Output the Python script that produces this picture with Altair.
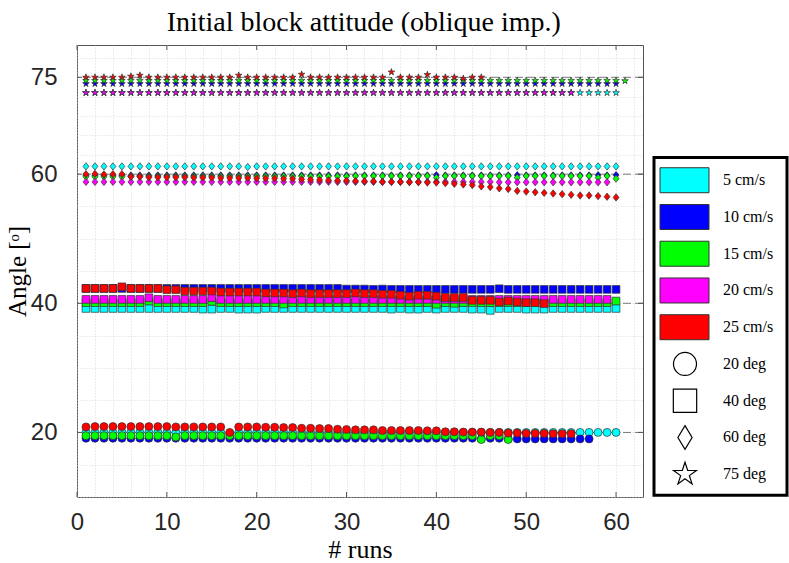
import altair as alt
import pandas as pd

TITLE = "Initial block attitude (oblique imp.)"
X_TITLE = "# runs"
Y_TITLE = "Angle [ᵒ]"

velocities = ["5 cm/s", "10 cm/s", "15 cm/s", "20 cm/s", "25 cm/s"]
vel_colors = ["#00FFFF", "#0000FF", "#00FF00", "#FF00FF", "#FF0000"]
angles = ["20 deg", "40 deg", "60 deg", "75 deg"]

x_tick_labels = [0, 10, 20, 30, 40, 50, 60]
y_tick_labels = [20, 40, 60, 75]
x_grid = [0, 2, 4, 6, 8, 10, 12, 14, 16, 18, 20, 22, 24, 26, 28, 30, 32, 34, 36, 38,
          40, 42, 44, 46, 48, 50, 52, 54, 56, 58, 60, 62]
y_grid = [10, 15, 20, 25, 30, 35, 40, 45, 50, 55, 60, 63, 66, 69, 72, 75, 78]

# ---- 20 deg (circles) ----
c20_cyan = [20.0, 20.0, 20.0, 20.0, 20.0, 20.0, 20.0, 20.0, 20.0, 19.95,
            20.0, 20.0, 20.0, 20.0, 20.0, 20.0, 19.9, 20.0, 20.0, 20.0,
            20.0, 20.0, 20.0, 20.0, 20.0, 20.0, 20.0, 20.0, 20.0, 20.0,
            20.0, 20.0, 20.0, 20.0, 20.0, 20.0, 20.0, 20.0, 20.0, 20.0,
            20.0, 20.0, 20.0, 20.0, 20.0, 20.0, 20.0, 20.0, 20.0, 20.0,
            20.0, 20.0, 20.0, 20.0, 20.0, 20.0, 20.0, 20.0, 20.0, 20.0]
c20_blue = [19.1, 19.1, 19.1, 19.1, 19.1, 19.1, 19.1, 19.1, 19.1, 19.1,
            19.1, 19.1, 19.1, 19.1, 19.1, 19.1, 19.1, 19.1, 19.1, 19.1,
            19.1, 19.1, 19.1, 19.1, 19.1, 19.1, 19.1, 19.1, 19.1, 19.1,
            19.1, 19.1, 19.1, 19.1, 19.1, 19.1, 19.1, 19.1, 19.1, 19.1,
            19.1, 19.1, 19.1, 19.1, 19.0, 19.1, 19.1, 19.0, 19.0, 19.0,
            19.0, 19.0, 19.0, 19.0, 19.0, 19.0, 19.0]
c20_green = [19.5, 19.5, 19.5, 19.5, 19.5, 19.5, 19.5, 19.5, 19.5, 19.5,
             19.3, 19.5, 19.5, 19.5, 19.5, 19.5, 19.5, 19.5, 19.5, 19.5,
             19.5, 19.5, 19.5, 19.5, 19.5, 19.5, 19.5, 19.5, 19.5, 19.5,
             19.5, 19.5, 19.5, 19.5, 19.5, 19.5, 19.5, 19.5, 19.5, 19.5,
             19.5, 19.5, 19.5, 19.5, 18.9, 19.5, 19.5, 18.9]
c20_red = [20.85, 20.9, 20.9, 20.9, 20.9, 20.9, 20.9, 20.9, 20.9, 20.9,
           20.85, 20.85, 20.85, 20.85, 20.85, 20.85, 20.0, 20.85, 20.85, 20.85,
           20.8, 20.8, 20.75, 20.75, 20.65, 20.65, 20.6, 20.6, 20.5, 20.45,
           20.4, 20.4, 20.4, 20.3, 20.3, 20.3, 20.3, 20.3, 20.25, 20.25,
           20.1, 20.1, 20.05, 20.05, 20.05, 20.0, 20.0, 19.9, 19.9, 19.85,
           19.85, 19.85, 19.8, 19.8, 19.8]

# ---- 40 deg (squares) ----
s40_cyan = [39.2, 39.2, 39.2, 39.2, 39.2, 39.2, 39.2, 39.2, 39.2, 39.2,
            39.2, 39.2, 39.2, 39.1, 39.1, 39.2, 39.2, 39.1, 39.1, 39.1,
            39.2, 39.2, 39.2, 39.2, 39.2, 39.2, 39.2, 39.2, 39.2, 39.2,
            39.2, 39.2, 39.2, 39.2, 39.1, 39.2, 39.1, 39.1, 39.2, 39.1,
            39.2, 39.2, 39.2, 39.1, 39.1, 38.9, 39.2, 39.2, 39.2, 39.1,
            39.1, 39.1, 39.2, 39.2, 39.2, 39.2, 39.2, 39.2, 39.2, 39.2]
s40_blue = [42.3, 42.3, 42.3, 42.3, 42.3, 42.3, 42.3, 42.3, 42.3, 42.3,
            42.3, 42.3, 42.3, 42.3, 42.3, 42.3, 42.3, 42.3, 42.3, 42.3,
            42.3, 42.3, 42.3, 42.3, 42.3, 42.3, 42.3, 42.3, 42.3, 42.2,
            42.2, 42.2, 42.15, 42.2, 42.15, 42.15, 42.15, 42.15, 42.15, 42.15,
            42.15, 42.15, 42.15, 42.15, 42.15, 42.15, 42.25, 42.15, 42.15, 42.15,
            42.15, 42.15, 42.15, 42.15, 42.15, 42.15, 42.15, 42.15, 42.15, 42.15]
s40_green = [40.1, 40.1, 40.1, 40.1, 40.1, 40.1, 40.1, 40.35, 40.1, 40.1,
             40.1, 40.1, 40.1, 40.1, 40.3, 40.1, 40.1, 40.1, 40.1, 40.1,
             40.1, 40.1, 39.9, 40.1, 40.1, 40.1, 40.1, 40.1, 40.1, 40.1,
             40.1, 40.1, 40.1, 40.1, 40.1, 40.1, 40.1, 40.1, 40.1, 39.85,
             40.1, 40.0, 40.1, 40.1, 40.1, 40.1, 40.1, 40.1, 40.1, 40.1,
             40.1, 40.1, 40.1, 40.1, 40.1, 40.1, 40.1, 40.1, 40.1, 40.35]
s40_magenta = [40.6, 40.6, 40.6, 40.6, 40.6, 40.6, 40.6, 40.85, 40.6, 40.6,
               40.6, 40.6, 40.6, 40.6, 40.85, 40.6, 40.6, 40.6, 40.6, 40.6,
               40.6, 40.6, 40.6, 40.6, 40.6, 40.6, 40.6, 40.6, 40.6, 40.6,
               40.6, 40.6, 40.6, 40.6, 40.6, 40.6, 40.6, 40.6, 40.6, 40.6,
               40.6, 40.6, 40.6, 40.6, 40.6, 40.6, 40.6, 40.6, 40.6, 40.6,
               40.6, 40.6, 40.6, 40.6, 40.6, 40.6, 40.6, 40.6, 40.6]
s40_red = [42.3, 42.3, 42.3, 42.3, 42.55, 42.3, 42.3, 42.3, 42.3, 42.1,
           42.1, 41.9, 41.9, 41.9, 41.9, 41.75, 41.75, 41.75, 41.75, 41.75,
           41.6, 41.6, 41.6, 41.5, 41.6, 41.5, 41.5, 41.5, 41.5, 41.5,
           41.6, 41.5, 41.5, 41.4, 41.4, 41.25, 41.1, 41.25, 41.25, 41.1,
           40.9, 40.9, 40.9, 40.45, 40.45, 40.45, 40.2, 40.35, 40.2, 40.1,
           40.1, 39.95]

# ---- 60 deg (diamonds) ----
d60_cyan = [61.2, 61.2, 61.2, 61.2, 61.2, 61.2, 61.2, 61.2, 61.2, 61.2,
            61.2, 61.2, 61.2, 61.2, 61.2, 61.2, 61.2, 61.2, 61.1, 61.2,
            61.2, 61.2, 61.2, 61.2, 61.2, 61.2, 61.2, 61.2, 61.2, 61.2,
            61.2, 61.2, 61.2, 61.2, 61.2, 61.2, 61.2, 61.2, 61.2, 61.2,
            61.2, 61.2, 61.2, 61.2, 61.2, 61.2, 61.2, 61.2, 61.2, 61.2,
            61.2, 61.2, 61.2, 61.2, 61.2, 61.2, 61.2, 61.2, 61.2, 61.2]
d60_blue = [59.8, 59.8, 59.8, 59.8, 59.8, 59.8, 59.8, 59.8, 59.8, 59.8,
            59.8, 59.8, 59.8, 59.8, 59.8, 59.8, 59.8, 59.8, 59.8, 59.8,
            59.8, 59.8, 59.8, 59.8, 59.8, 59.8, 59.8, 59.8, 59.8, 59.8,
            59.8, 59.8, 59.8, 59.8, 59.8, 59.8, 59.8, 59.8, 59.8, 59.85,
            59.8, 59.8, 59.8, 59.8, 59.8, 59.8, 59.8, 59.8, 59.85, 59.8,
            59.8, 59.8, 59.8, 59.8, 59.8, 59.8, 59.8, 59.85, 59.8, 59.85]
d60_green = [59.6, 59.6, 59.6, 59.6, 59.6, 59.65, 59.65, 59.65, 59.65, 59.65,
             59.65, 59.65, 59.65, 59.65, 59.65, 59.65, 59.65, 59.65, 59.65, 59.65,
             59.65, 59.65, 59.65, 59.65, 59.65, 59.65, 59.65, 59.65, 59.65, 59.65,
             59.7, 59.7, 59.7, 59.7, 59.7, 59.7, 59.7, 59.7, 59.7, 59.45,
             59.7, 59.7, 59.7, 59.7, 59.7, 59.7, 59.7, 59.7, 59.45, 59.7,
             59.7, 59.7, 59.7, 59.7, 59.7, 59.7, 59.7, 59.45, 59.7, 59.3]
d60_magenta = [58.8, 58.8, 58.8, 58.8, 58.8, 58.8, 58.8, 58.8, 58.8, 58.8,
               58.8, 58.8, 58.8, 58.8, 58.8, 58.8, 58.8, 58.8, 58.8, 58.8,
               58.8, 58.8, 58.8, 58.8, 58.8, 58.8, 58.8, 58.8, 58.8, 58.8,
               58.8, 58.8, 58.8, 58.8, 58.8, 58.8, 58.8, 58.8, 58.8, 58.8,
               58.8, 58.8, 58.8, 58.8, 58.8, 58.8, 58.75, 58.75, 58.75, 58.75,
               58.75, 58.75, 58.75, 58.75, 58.75, 58.75, 58.75, 58.75, 58.75]
d60_red = [60.0, 60.05, 59.95, 60.0, 60.0, 59.6, 59.6, 59.5, 59.5, 59.5,
           59.5, 59.5, 59.45, 59.45, 59.45, 59.4, 59.4, 59.4, 59.4, 59.35,
           59.35, 59.35, 59.3, 59.3, 59.2, 59.15, 59.1, 59.05, 59.0, 59.0,
           58.95, 58.9, 58.9, 58.8, 58.8, 58.8, 58.75, 58.75, 58.7, 58.7,
           58.6, 58.5, 58.4, 58.3, 58.1, 58.0, 57.8, 57.7, 57.4, 57.3,
           57.2, 57.1, 57.0, 56.9, 56.8, 56.7, 56.7, 56.6, 56.5, 56.4]

# ---- 75 deg (stars) ----
st75_cyan = [72.6, 72.6, 72.6, 72.6, 72.6, 72.6, 72.6, 72.6, 72.6, 72.6,
             72.6, 72.6, 72.6, 72.6, 72.6, 72.6, 72.6, 72.6, 72.6, 72.6,
             72.6, 72.6, 72.6, 72.6, 72.6, 72.6, 72.6, 72.6, 72.6, 72.6,
             72.6, 72.6, 72.6, 72.6, 72.6, 72.6, 72.6, 72.6, 72.6, 72.6,
             72.6, 72.6, 72.6, 72.6, 72.6, 72.6, 72.6, 72.6, 72.6, 72.6,
             72.6, 72.6, 72.6, 72.6, 72.6, 72.6, 72.6, 72.6, 72.6, 72.6]
st75_blue = [74.0, 74.0, 74.0, 74.0, 74.0, 74.0, 74.0, 74.0, 74.0, 74.0,
             74.0, 74.0, 74.0, 74.0, 74.0, 74.0, 74.0, 74.0, 74.0, 74.0,
             74.0, 74.0, 74.0, 74.0, 74.0, 74.0, 74.0, 74.0, 74.0, 74.0,
             74.0, 74.0, 74.0, 74.0, 74.0, 74.0, 74.0, 74.0, 74.0, 74.0,
             74.0, 74.0, 74.0, 74.0, 74.0, 74.0, 74.0, 74.0, 74.0, 74.0,
             74.0, 74.0, 74.0, 74.0, 74.0, 74.0, 74.0, 74.0, 74.0, 74.0]
st75_green = [74.5, 74.5, 74.5, 74.5, 74.5, 74.5, 74.5, 74.5, 74.5, 74.5,
              74.5, 74.5, 74.5, 74.5, 74.5, 74.5, 74.5, 74.5, 74.5, 74.5,
              74.5, 74.5, 74.5, 74.5, 74.5, 74.5, 74.5, 74.5, 74.5, 74.5,
              74.5, 74.5, 74.5, 74.5, 74.5, 74.5, 74.5, 74.5, 74.5, 74.5,
              74.5, 74.5, 74.5, 74.5, 74.5, 74.5, 74.5, 74.5, 74.5, 74.5,
              74.5, 74.5, 74.5, 74.5, 74.5, 74.5, 74.5, 74.5, 74.5, 74.5,
              74.45]
st75_magenta = [72.6, 72.6, 72.6, 72.6, 72.6, 72.6, 72.6, 72.6, 72.6, 72.6,
                72.6, 72.6, 72.6, 72.6, 72.6, 72.6, 72.6, 72.6, 72.6, 72.6,
                72.6, 72.6, 72.6, 72.6, 72.6, 72.6, 72.6, 72.6, 72.6, 72.6,
                72.6, 72.6, 72.6, 72.6, 72.6, 72.6, 72.6, 72.6, 72.6, 72.6,
                72.6, 72.6, 72.6, 72.6, 72.6, 72.6, 72.6, 72.6, 72.6, 72.6,
                72.6, 72.6, 72.6, 72.6, 72.6]
st75_red = [75.0, 75.0, 75.0, 75.0, 75.0, 75.15, 75.3, 75.0, 75.0, 75.0,
            75.0, 75.0, 75.0, 75.0, 75.0, 75.0, 75.0, 75.3, 75.0, 75.0,
            75.0, 75.0, 75.0, 75.0, 75.45, 75.0, 75.0, 75.0, 75.0, 75.0,
            75.0, 75.0, 75.0, 75.0, 75.8, 75.0, 75.0, 75.0, 75.4, 75.0,
            75.0, 75.0, 74.8, 75.0, 75.0]

series = {
    ("5 cm/s", "20 deg"): c20_cyan, ("10 cm/s", "20 deg"): c20_blue,
    ("15 cm/s", "20 deg"): c20_green, ("25 cm/s", "20 deg"): c20_red,
    ("5 cm/s", "40 deg"): s40_cyan, ("10 cm/s", "40 deg"): s40_blue,
    ("15 cm/s", "40 deg"): s40_green, ("20 cm/s", "40 deg"): s40_magenta,
    ("25 cm/s", "40 deg"): s40_red,
    ("5 cm/s", "60 deg"): d60_cyan, ("10 cm/s", "60 deg"): d60_blue,
    ("15 cm/s", "60 deg"): d60_green, ("20 cm/s", "60 deg"): d60_magenta,
    ("25 cm/s", "60 deg"): d60_red,
    ("5 cm/s", "75 deg"): st75_cyan, ("10 cm/s", "75 deg"): st75_blue,
    ("15 cm/s", "75 deg"): st75_green, ("20 cm/s", "75 deg"): st75_magenta,
    ("25 cm/s", "75 deg"): st75_red,
}

rows = []
k = 0
for v in velocities:
    for a in angles:
        vals = series.get((v, a))
        if not vals:
            continue
        for i, val in enumerate(vals, start=1):
            rows.append({"run": i, "angle": val, "vel": v, "ang": a, "k": k})
            k += 1
df = pd.DataFrame(rows)

W, H = 566, 452
STAR = ("M0,-1L0.225,-0.309L0.951,-0.309L0.363,0.118L0.588,0.809L0,0.382"
        "L-0.588,0.809L-0.363,0.118L-0.951,-0.309L-0.225,-0.309Z")
DIAM = "M0,-1L0.8,0L0,1L-0.8,0Z"
DIAM_LEG = "M0,-1L0.6,0L0,1L-0.6,0Z"

xscale = alt.Scale(domain=[0, 63], nice=False, zero=False)
yscale = alt.Scale(domain=[10, 80], nice=False, zero=False)

xaxis = alt.Axis(values=x_grid,
                 labelExpr="datum.value % 10 === 0 ? datum.label : ''",
                 grid=True, gridDash=[1, 2], gridColor="#cfcfcf", gridWidth=0.8,
                 ticks=False, domain=False, labelOverlap=False, labelFlush=False,
                 labelFont="Liberation Sans", labelFontSize=24, labelColor="#262626",
                 labelPadding=13, title=X_TITLE, titleFont="Liberation Serif",
                 titleFontSize=26, titleFontWeight="normal", titleColor="#000000",
                 titlePadding=2)
yaxis = alt.Axis(values=y_grid,
                 labelExpr="(datum.value == 20 || datum.value == 40 || datum.value == 60 || datum.value == 75) ? datum.label : ''",
                 grid=True, gridDash=[1, 2], gridColor="#cfcfcf", gridWidth=0.8,
                 ticks=False, domain=False, labelOverlap=False, labelFlush=False,
                 labelFont="Liberation Sans", labelFontSize=24, labelColor="#262626",
                 labelPadding=20, title=Y_TITLE, titleFont="Liberation Serif",
                 titleFontSize=25, titleFontWeight="normal", titleColor="#000000",
                 titleX=-47, titleBaseline="bottom")

points = alt.Chart(df).mark_point(filled=True, opacity=1, stroke="#303030",
                                  strokeWidth=0.7).encode(
    x=alt.X("run:Q", scale=xscale, axis=xaxis),
    y=alt.Y("angle:Q", scale=yscale, axis=yaxis),
    color=alt.Color("vel:N", scale=alt.Scale(domain=velocities, range=vel_colors), legend=None),
    shape=alt.Shape("ang:N", scale=alt.Scale(domain=angles, range=["circle", "square", DIAM, STAR]), legend=None),
    size=alt.Size("ang:N", scale=alt.Scale(domain=angles, range=[64, 49, 121, 130]), legend=None),
    order=alt.Order("k:Q"),
)

major_df = pd.DataFrame({"v": y_tick_labels})
dashed = alt.Chart(major_df).mark_rule(color="#7a7a7a", strokeDash=[8, 4], strokeWidth=1).encode(
    y=alt.Y("v:Q", scale=yscale, axis=yaxis)
)

xt_df = pd.DataFrame({"v": x_tick_labels})
xt_bottom = alt.Chart(xt_df).mark_rule(color="#555555", strokeWidth=1).encode(
    x=alt.X("v:Q", scale=xscale, axis=xaxis), y=alt.value(H - 5), y2=alt.value(H))
xt_top = alt.Chart(xt_df).mark_rule(color="#555555", strokeWidth=1).encode(
    x=alt.X("v:Q", scale=xscale, axis=xaxis), y=alt.value(0), y2=alt.value(5))
yt_left = alt.Chart(major_df).mark_rule(color="#555555", strokeWidth=1).encode(
    y=alt.Y("v:Q", scale=yscale, axis=yaxis), x=alt.value(0), x2=alt.value(5))
yt_right = alt.Chart(major_df).mark_rule(color="#555555", strokeWidth=1).encode(
    y=alt.Y("v:Q", scale=yscale, axis=yaxis), x=alt.value(W - 5), x2=alt.value(W))

main = alt.layer(dashed, points, xt_bottom, xt_top, yt_left, yt_right).properties(
    width=W, height=H, view=alt.ViewBackground(stroke="#555555", strokeWidth=1)
)

# ---- legend panel ----
LW = 134
leg_labels = velocities + angles
leg_df = pd.DataFrame({"label": leg_labels, "row": list(range(len(leg_labels)))})
leg_y = alt.Scale(domain=[-3.68, 8.62], reverse=True, nice=False, zero=False)

box_df = pd.DataFrame({"top": [-0.62], "bottom": [8.57]})
box = alt.Chart(box_df).mark_rect(fill="white", stroke="#000000", strokeWidth=3).encode(
    x=alt.value(1), x2=alt.value(LW),
    y=alt.Y("top:Q", scale=leg_y, axis=None), y2="bottom:Q")

rects = alt.Chart(leg_df).transform_filter(
    alt.FieldOneOfPredicate(field="label", oneOf=velocities)
).transform_calculate(y0="datum.row - 0.34", y1="datum.row + 0.34").mark_rect(
    stroke="#333333", strokeWidth=1).encode(
    x=alt.value(7), x2=alt.value(56),
    y=alt.Y("y0:Q", scale=leg_y, axis=None), y2="y1:Q",
    fill=alt.Fill("label:N", scale=alt.Scale(domain=velocities, range=vel_colors), legend=None))

shapes = alt.Chart(leg_df).transform_filter(
    alt.FieldOneOfPredicate(field="label", oneOf=angles)
).mark_point(filled=True, fill="white", stroke="#000000", strokeWidth=1.2, opacity=1).encode(
    x=alt.value(32),
    y=alt.Y("row:Q", scale=leg_y, axis=None),
    shape=alt.Shape("label:N", scale=alt.Scale(domain=angles, range=["circle", "square", DIAM_LEG, STAR]), legend=None),
    size=alt.Size("label:N", scale=alt.Scale(domain=angles, range=[529, 576, 729, 1000]), legend=None))

texts = alt.Chart(leg_df).mark_text(align="left", baseline="middle", font="Liberation Serif",
                                    fontSize=16, color="#000000").encode(
    x=alt.value(70), y=alt.Y("row:Q", scale=leg_y, axis=None), text="label:N")

legend = alt.layer(box, rects, shapes, texts).properties(
    width=LW, height=H, view=alt.ViewBackground(stroke="transparent"))

chart = alt.hconcat(main, legend, spacing=8).resolve_scale(
    color="independent", shape="independent", size="independent", fill="independent"
).properties(
    title=alt.TitleParams(TITLE, font="Liberation Serif", fontSize=28, fontWeight="normal",
                          color="#000000", anchor="middle", dx=-33, offset=7),
    padding={"left": 4, "top": 9, "right": 0, "bottom": 0},
    background="white",
)

chart.save("out.html", embed_options={"renderer": "svg", "actions": False})
